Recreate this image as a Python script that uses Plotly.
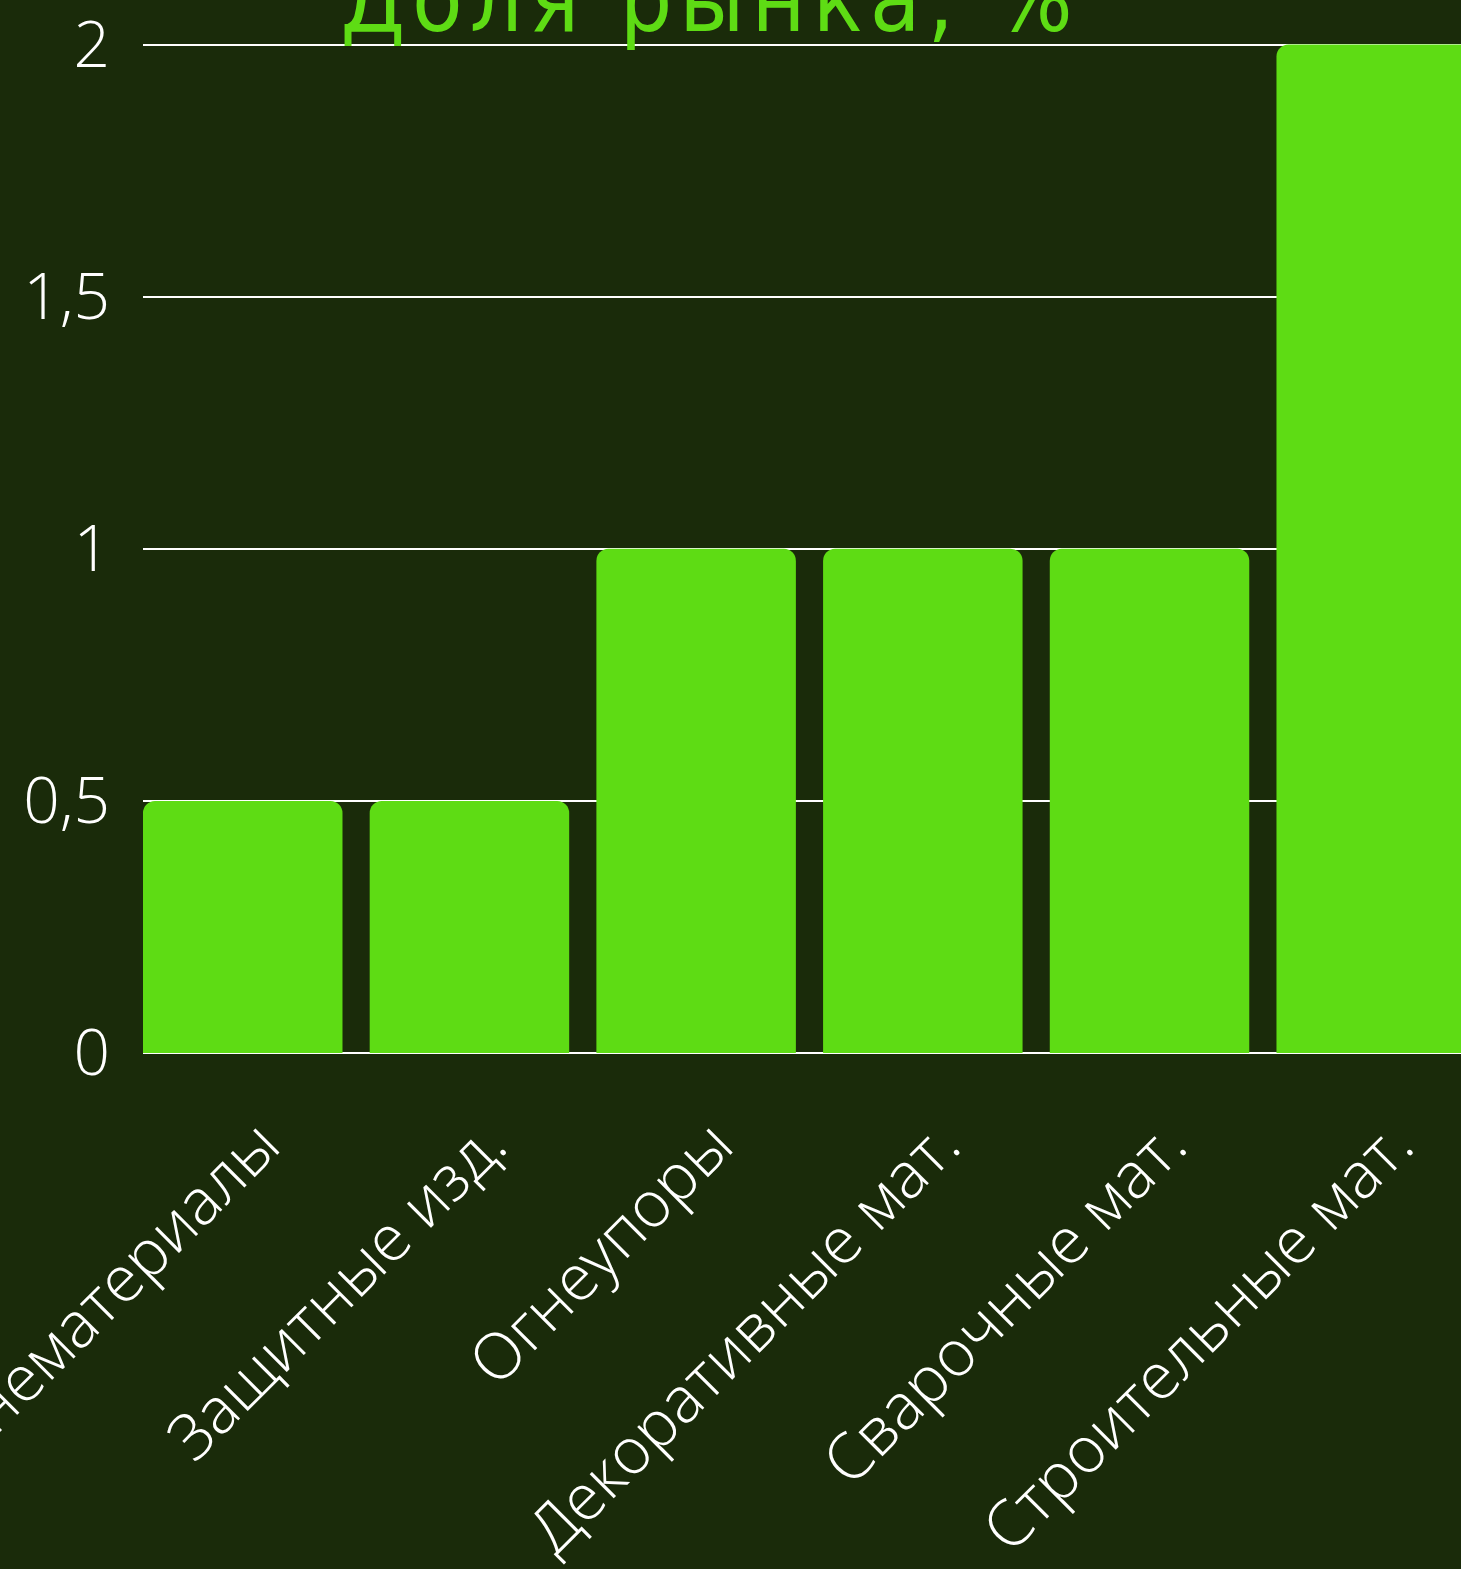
import plotly.graph_objects as go

categories = ["Огнематериалы", "Защитные изд.", "Огнеупоры", "Декоративные мат.", "Сварочные мат.", "Строительные мат."]
values = [0.5, 0.5, 1, 1, 1, 2]
y_ticks = [0, 0.5, 1, 1.5, 2]
title_text = "Доля рынка, %"

BG = "#1a2b0a"
GREEN = "#5edc14"

fig = go.Figure(go.Bar(
    x=categories, y=values,
    marker=dict(color=GREEN, line=dict(width=0), cornerradius=12),
    width=0.88,
))

fig.update_layout(
    width=1461, height=1569,
    paper_bgcolor=BG, plot_bgcolor=BG,
    margin=dict(l=143, r=0, t=42, b=516, autoexpand=False),
    separators=",.",
    showlegend=False,
    title=dict(
        text='<span style="letter-spacing:7px">' + title_text + '</span>',
        font=dict(family="DejaVu Sans Condensed, DejaVu Sans", size=92, color=GREEN),
        x=0.486, xanchor="center", xref="container",
        y=1 - 31 / 1569, yanchor="bottom", yref="container",
    ),
    font=dict(family="Open Sans", color="white"),
)

fig.update_xaxes(
    range=[-0.44, 5.374],
    tickangle=-45,
    tickfont=dict(family="Open Sans", size=64, color="white", weight=300),
    showgrid=False, showline=False, ticks="",
    automargin=False,
    ticklabelstandoff=40, ticklabelshift=18,
)
fig.update_yaxes(
    range=[0, 2.005],
    tickvals=y_ticks,
    tickfont=dict(family="Open Sans", size=64, color="white", weight=300),
    showgrid=True, gridcolor="white", gridwidth=2,
    zeroline=True, zerolinecolor="white", zerolinewidth=2,
    ticklabelstandoff=32,
    ticklabeloverflow="allow",
    showline=False, ticks="",
    automargin=False,
)

fig.write_html("out.html")
